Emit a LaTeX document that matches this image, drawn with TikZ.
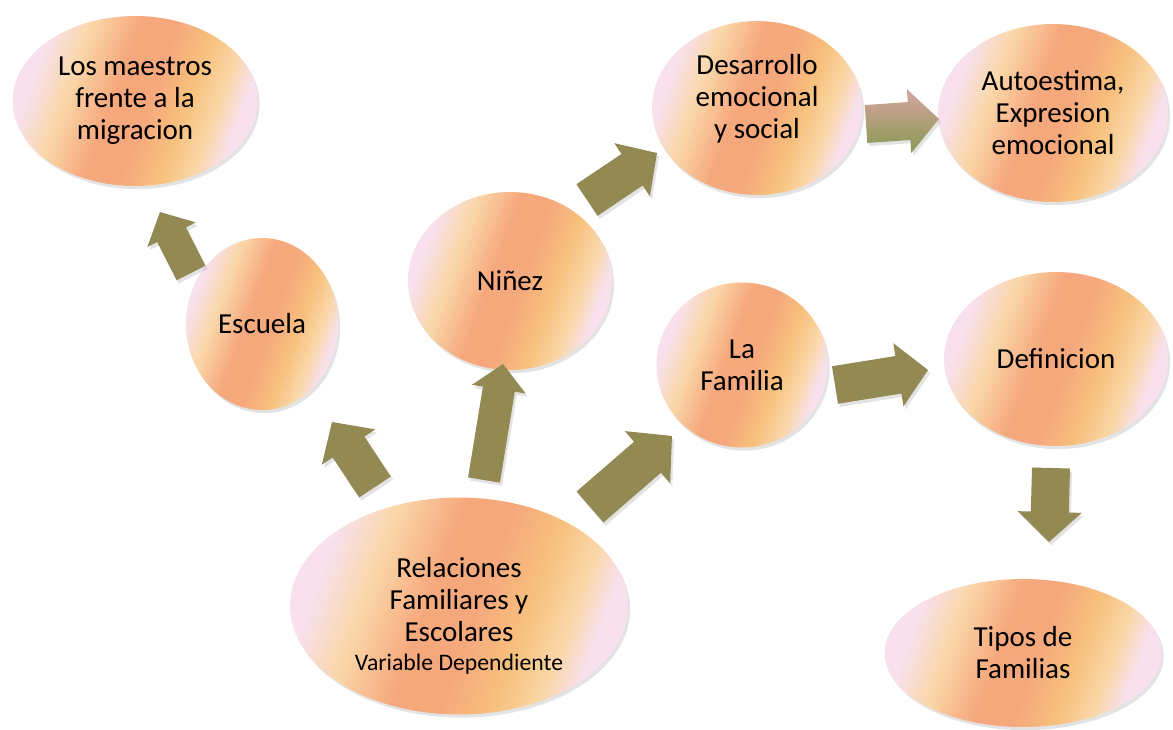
\documentclass[tikz,border=0pt]{standalone}
\usepackage{fontspec}
\setmainfont{Carlito}
\usetikzlibrary{shapes.geometric, calc, shadows}

\definecolor{ovpink}{HTML}{F8E0EC}
\definecolor{ovlight}{HTML}{FAD7A8}
\definecolor{ovsalmon}{HTML}{F6A87D}
\definecolor{ovgold}{HTML}{F7C07C}
\definecolor{arrowolive}{HTML}{938953}
\definecolor{arrowpink}{HTML}{D8A4A2}
\definecolor{arrowgreen}{HTML}{879A52}

\pgfdeclarehorizontalshading{ovalfill}{100bp}{color(0bp)=(ovpink); color(27bp)=(ovpink);
	color(35bp)=(ovlight); color(45bp)=(ovsalmon); color(53bp)=(ovsalmon);
	color(61bp)=(ovgold); color(68bp)=(ovlight); color(73bp)=(ovpink); color(100bp)=(ovpink)}

\tikzstyle{soft shadow} = [drop shadow={opacity=0.22, shadow xshift=1.2pt, shadow yshift=-1.8pt}]
\tikzstyle{oval} = [ellipse, shading=ovalfill, shading angle=-20, inner sep=0pt,
	align=center, font=\fontsize{16.5}{18.2}\selectfont, soft shadow]
\tikzstyle{blockarrow} = [fill=arrowolive, soft shadow]
\tikzstyle{fadearrow} = [top color=arrowpink, bottom color=arrowgreen, soft shadow]

% block arrow: [style]{size}{tail}{tip}
\newcommand{\blockarr}[4][blockarrow]{
	\coordinate (#4-neck) at ($(#4)!#2*0.6cm!(#3)$);
	\path[#1] ($(#3)!#2*0.38cm!90:(#4)$) -- ($(#4-neck)!#2*0.38cm!-90:(#3)$)
		-- ($(#4-neck)!#2*0.64cm!-90:(#3)$) -- (#4) -- ($(#4-neck)!#2*0.64cm!90:(#3)$)
		-- ($(#4-neck)!#2*0.38cm!90:(#3)$) -- ($(#3)!#2*0.38cm!-90:(#4)$) -- cycle;
}

\begin{document}
\begin{tikzpicture}[x=0.02cm, y=-0.02cm]
	\useasboundingbox (0,0) rectangle (1173,730);

	% ovals
	\node (maestros) [oval, minimum width=4.9cm, minimum height=3.4cm] at (135,101) {Los maestros\\frente a la\\migracion};
	\node (desarrollo) [oval, minimum width=4.2cm, minimum height=3.48cm] at (757,108) {Desarrollo\\emocional\\y social\\[-5pt]\mbox{}};
	\node (autoestima) [oval, minimum width=4.6cm, minimum height=3.56cm] at (1053,113) {Autoestima,\\Expresion\\emocional};
	\node (ninez) [oval, minimum width=4.08cm, minimum height=3.56cm] at (510,281) {Niñez};
	\node (escuela) [oval, minimum width=3.04cm, minimum height=3.44cm] at (262,324) {Escuela};
	\node (familia) [oval, minimum width=3.42cm, minimum height=3.3cm] at (742,365) {La\\Familia};
	\node (definicion) [oval, minimum width=4.48cm, minimum height=3.48cm] at (1056,359) {Definicion};
	\node (relaciones) [oval, minimum width=6.76cm, minimum height=4.34cm] at (459,606)
		{Relaciones\\Familiares y\\Escolares\\[-1.5pt]{\fontsize{13.5}{15}\selectfont Variable Dependiente}\\[-27pt]\mbox{}};
	\node (tipos) [oval, minimum width=5.54cm, minimum height=2.96cm] at (1023,653) {Tipos de\\Familias};

	% arrow ends
	\coordinate (escuela-out) at (191,273);
	\coordinate (maestros-in) at (160,212);
	\coordinate (rel-esc) at (375,487);
	\coordinate (escuela-in) at (332,422);
	\coordinate (rel-nin) at (484,480);
	\coordinate (ninez-in) at (503,364);
	\coordinate (rel-fam) at (590,507);
	\coordinate (familia-in) at (672,436);
	\coordinate (ninez-out) at (587,200);
	\coordinate (desarrollo-in) at (657,153);
	\coordinate (desarrollo-out) at (866,124);
	\coordinate (autoestima-in) at (939,119);
	\coordinate (familia-out) at (835,385);
	\coordinate (definicion-in) at (928,370);
	\coordinate (definicion-out) at (1051,468);
	\coordinate (tipos-in) at (1049,542);

	% block arrows
	\blockarr{0.85}{escuela-out}{maestros-in}
	\blockarr{1}{rel-esc}{escuela-in}
	\blockarr{0.85}{rel-nin}{ninez-in}
	\blockarr{1.08}{rel-fam}{familia-in}
	\blockarr{1}{ninez-out}{desarrollo-in}
	\blockarr[fadearrow]{1}{desarrollo-out}{autoestima-in}
	\blockarr{1}{familia-out}{definicion-in}
	\blockarr{1}{definicion-out}{tipos-in}

\end{tikzpicture}
\end{document}
